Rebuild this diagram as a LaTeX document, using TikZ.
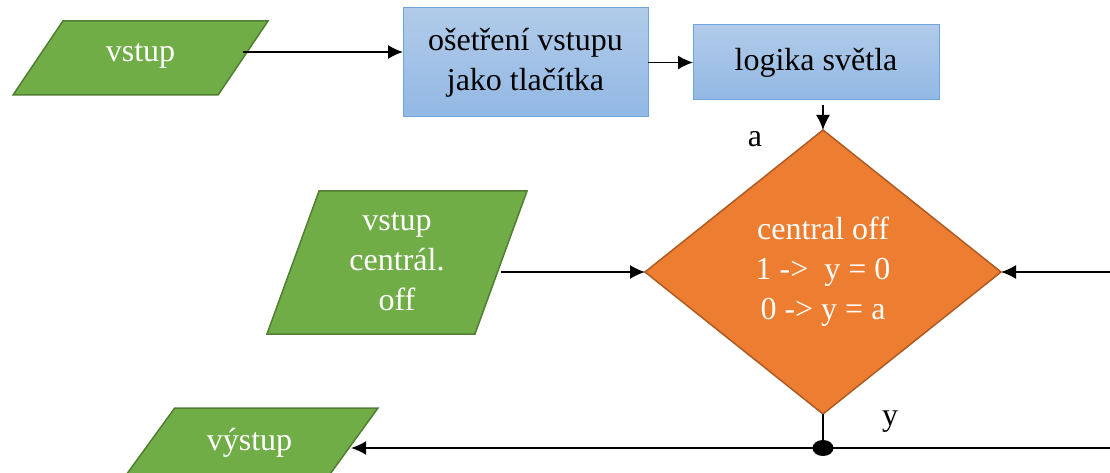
\documentclass[tikz,border=0pt]{standalone}
\usepackage{fontspec}
\setmainfont{Liberation Serif}
\usetikzlibrary{arrows.meta,shapes.geometric}

\definecolor{iogreen}{HTML}{70AD47}
\definecolor{iogreenline}{HTML}{507E32}
\definecolor{boxtop}{HTML}{B1CBE9}
\definecolor{boxbottom}{HTML}{92B8E4}
\definecolor{boxline}{HTML}{6FA5DA}
\definecolor{decorange}{HTML}{ED7D31}
\definecolor{decline}{HTML}{AE5A21}

\begin{document}
\begin{tikzpicture}[
            x = 1pt, y = -1pt, % pixel units, y goes down
            > = {Latex[length=15pt,width=14pt]}, % arrow head style
            font = \fontsize{32}{40}\selectfont,
            io/.style = {trapezium, trapezium stretches body, draw=iogreenline, fill=iogreen,
                         line width=1.5pt, text=white, align=center, inner xsep=0pt, outer sep=0pt},
            proc/.style = {rectangle, draw=boxline, line width=1pt, top color=boxtop,
                           bottom color=boxbottom, align=center, outer sep=0pt},
            dec/.style = {diamond, draw=decline, fill=decorange, line width=1.5pt,
                          text=white, align=center, inner sep=0pt, outer sep=0pt},
            flow/.style = {->, line width=1.5pt} % line style
        ]

	\useasboundingbox (0,0) rectangle (1110,473);

	\node[io, trapezium left angle=56, trapezium right angle=124, text height=18pt, text depth=10pt,
	      inner ysep=23pt, minimum width=255] (in1) at (140.5,58) {vstup};
	\node[proc, minimum width=245, minimum height=109] (clean) at (525.5,62.5) {ošetření vstupu\\jako tlačítka};
	\node[proc, minimum width=246, minimum height=75] (logic) [right of=clean, node distance=290.5pt] {logika světla};
	\node[dec, minimum width=356, minimum height=284] (dec) at (823,272) {central off\\1 ->\ \ y = 0\\0 -> y = a};
	\node[io, trapezium left angle=70, trapezium right angle=110, text height=103.5pt, text depth=8.5pt,
	      inner ysep=15.5pt, minimum width=260] (in2) at (397,262.5) {vstup\\centrál.\\off};
	\node[io, trapezium left angle=54, trapezium right angle=126, text height=19pt, text depth=9pt,
	      inner ysep=23pt, minimum width=257] (out) at (249.5,445) {výstup};
	\node[ellipse, fill=black, minimum width=21, minimum height=16, inner sep=0pt] (jn) at (823,448) {};

	\node (la) at (755,139) {a};
	\node (ly) at (890,422) {y};

	\coordinate (fbin) at (1110,272);
	\coordinate (fbout) at (1110,448);

	\draw[flow] ([yshift=6pt]in1.east) -- ([yshift=6pt]in1.east -| clean.west);
	\draw[flow] (clean.east |- logic.west) -- (logic.west);
	\draw[flow, shorten <=5pt] (dec.north |- logic.south) -- (dec.north);
	\draw[flow] (in2.east |- dec.west) -- (dec.west);
	\draw[flow] (fbin) -- (dec.east);
	\draw[line width=1.5pt] (dec.south) -- (jn);
	\draw[flow] (fbout) -- (fbout -| out.east);

\end{tikzpicture}
\end{document}
